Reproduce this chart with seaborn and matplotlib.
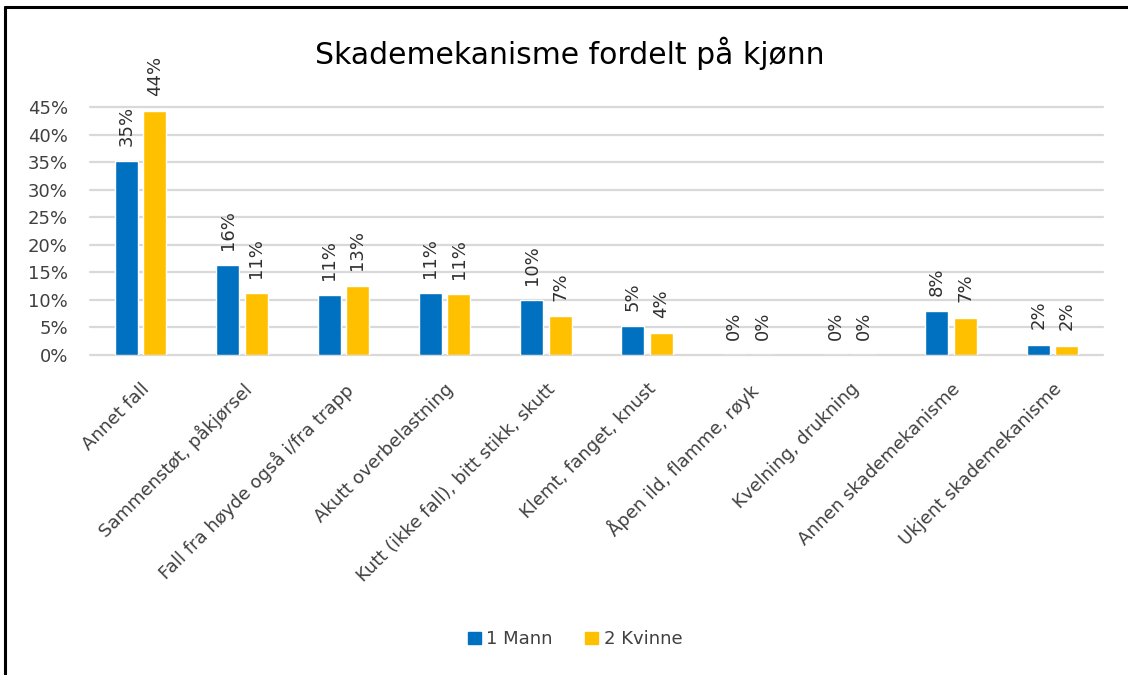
import matplotlib
matplotlib.use("Agg")
import matplotlib.pyplot as plt
from matplotlib.patches import Rectangle
from matplotlib.lines import Line2D
import seaborn as sns
import pandas as pd

# data (shares, 0..1)
categories = [
    "Annet fall",
    "Sammenstøt, påkjørsel",
    "Fall fra høyde også i/fra trapp",
    "Akutt overbelastning",
    "Kutt (ikke fall), bitt stikk, skutt",
    "Klemt, fanget, knust",
    "Åpen ild, flamme, røyk",
    "Kvelning, drukning",
    "Annen skademekanisme",
    "Ukjent skademekanisme",
]
mann = [0.352, 0.163, 0.108, 0.1125, 0.099, 0.052, 0.0, 0.0, 0.080, 0.019]
kvinne = [0.443, 0.1125, 0.126, 0.110, 0.071, 0.040, 0.0, 0.0, 0.068, 0.017]
series_names = ["1 Mann", "2 Kvinne"]
colors = ["#0070C0", "#FFC000"]
yticks = [0, 0.05, 0.10, 0.15, 0.20, 0.25, 0.30, 0.35, 0.40, 0.45]

df = pd.DataFrame({
    "kategori": categories * 2,
    "andel": mann + kvinne,
    "kjonn": [series_names[0]] * len(categories) + [series_names[1]] * len(categories),
})

sns.set_theme(style="white")
plt.rcParams["font.family"] = ["DejaVu Sans"]

W, H = 1128, 675
fig = plt.figure(figsize=(W / 100, H / 100), dpi=100)
# plot area: x 90..1103 px, y 107..355 px
ax = fig.add_axes([90 / W, 1 - 355 / H, 1013 / W, 248 / H])

sns.barplot(data=df, x="kategori", y="andel", hue="kjonn", palette=colors,
            width=0.56, gap=0.19, ax=ax, legend=False, saturation=1)

ax.set_xlim(-0.5, len(categories) - 0.5)
ax.set_ylim(0, 0.45)
ax.set_yticks(yticks)
ax.set_yticklabels([f"{t:.0%}" for t in yticks], fontsize=13, color="#404040")
ax.yaxis.grid(True, color="#D9D9D9", linewidth=1.6)
for gl in ax.get_ygridlines():
    gl.set_clip_on(False)
ax.set_axisbelow(True)
for s in ax.spines.values():
    s.set_visible(False)
ax.tick_params(axis="y", length=0, pad=16)
ax.tick_params(axis="x", length=0, pad=18)
ax.set_xlabel("")
ax.set_ylabel("")
ax.set_xticks(range(len(categories)))
ax.set_xticklabels(categories, rotation=45, ha="right", rotation_mode="anchor",
                   fontsize=13, color="#404040")

# data labels
for cont, vals in zip(ax.containers, [mann, kvinne]):
    ax.bar_label(cont, labels=[f"{v:.0%}" for v in vals], padding=11,
                 rotation=90, fontsize=13, color="#303030")

fig.suptitle("Skademekanisme fordelt på kjønn", x=0.505, y=0.945, fontsize=21.5,
             color="#000000")

handles = [Rectangle((0, 0), 1, 1, color=c) for c in colors]
fig.legend(handles, series_names, loc="center", bbox_to_anchor=(0.51, 0.053),
           ncol=2, frameon=False, fontsize=13, handlelength=0.7, handleheight=0.7,
           handletextpad=0.3, columnspacing=1.8, labelcolor="#404040")

# outer frame (top and left edges of the screenshot box)
fig.add_artist(Line2D([5 / W, 1], [1 - 7 / H, 1 - 7 / H], transform=fig.transFigure,
                      color="black", linewidth=2.2))
fig.add_artist(Line2D([5 / W, 5 / W], [0, 1 - 7 / H], transform=fig.transFigure,
                      color="black", linewidth=2.2))

fig.savefig("out.png", dpi=100, facecolor="white")
